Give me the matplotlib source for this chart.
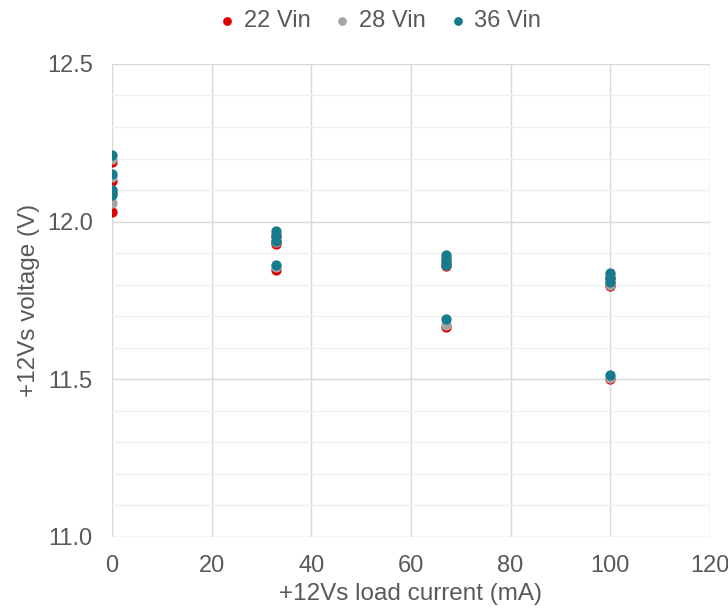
import numpy as np
import matplotlib.pyplot as plt
from matplotlib.ticker import MultipleLocator

plt.rcParams['font.family'] = ['Liberation Sans', 'DejaVu Sans']

# load current (mA), four readings per load point
load = [0, 33, 67, 100]
v22 = [[12.19, 12.13, 12.09, 12.03],
       [11.955, 11.935, 11.93, 11.845],
       [11.88, 11.865, 11.86, 11.665],
       [11.82, 11.80, 11.795, 11.50]]
v28 = [[12.20, 12.14, 12.10, 12.06],
       [11.96, 11.945, 11.935, 11.855],
       [11.885, 11.87, 11.862, 11.672],
       [11.83, 11.81, 11.80, 11.505]]
v36 = [[12.21, 12.15, 12.10, 12.085],
       [11.97, 11.955, 11.94, 11.862],
       [11.895, 11.875, 11.862, 11.69],
       [11.838, 11.82, 11.808, 11.515]]

series = [('22 Vin', v22, '#E00000'),
          ('28 Vin', v28, '#A5A5A5'),
          ('36 Vin', v36, '#167B8C')]

fig = plt.figure(figsize=(7.28, 6.15), dpi=100)
ax = fig.add_axes([0.154, 0.127, 0.821, 0.769])

for name, vals, col in series:
    xs = np.repeat(load, [len(v) for v in vals])
    ys = np.concatenate(vals)
    ax.scatter(xs, ys, s=55, color=col, label=name, zorder=3, linewidths=0)

ax.set_xlim(0, 120)
ax.set_ylim(11.0, 12.5)
ax.xaxis.set_major_locator(MultipleLocator(20))
ax.yaxis.set_major_locator(MultipleLocator(0.5))
ax.yaxis.set_minor_locator(MultipleLocator(0.1))
ax.yaxis.set_major_formatter(plt.FormatStrFormatter('%.1f'))
ax.grid(which='major', color='#D9D9D9', linewidth=1.0, zorder=0)
ax.grid(which='minor', axis='y', color='#F0F0F0', linewidth=1.0, zorder=0)
for s in ax.spines.values():
    s.set_visible(False)
ax.tick_params(which='both', length=0, labelsize=17, colors='#595959')
ax.tick_params(axis='y', pad=14)
ax.tick_params(axis='x', pad=13)
ax.set_xlabel('+12Vs load current (mA)', fontsize=17.5, color='#595959', labelpad=4)
ax.set_ylabel('+12Vs voltage (V)', fontsize=17.5, color='#595959', labelpad=5)

fig.legend(*ax.get_legend_handles_labels(), loc='center',
           bbox_to_anchor=(0.522, 0.966), ncol=3, frameon=False,
           fontsize=17, labelcolor='#595959', handlelength=0.7,
           handletextpad=0.35, columnspacing=1.0, markerscale=0.85)

fig.savefig('out.png', dpi=100, facecolor='white')
